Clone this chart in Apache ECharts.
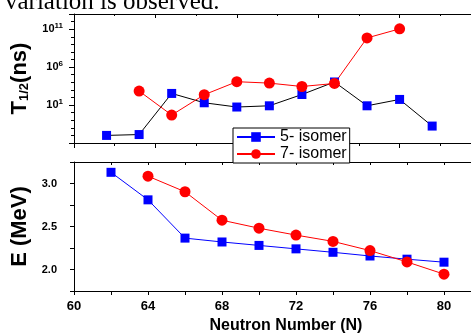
<!DOCTYPE html>
<html>
<head>
<meta charset="utf-8">
<script src="https://cdn.jsdelivr.net/npm/echarts@6/dist/echarts.min.js"></script>
<style>
  html, body { margin: 0; padding: 0; background: #fff; }
  #main { width: 471px; height: 334px; }
</style>
</head>
<body>
<div id="main"></div>
<script>
// half-life panel (top)
const nHalf5 = [62, 64, 66, 68, 70, 72, 74, 76, 78, 80, 82];
const halfLife5 = [1e-3, 1.3e-3, 340, 20, 5.5, 8, 245, 1.1e4, 8, 55, 0.017];
const nHalf7 = [64, 66, 68, 70, 72, 74, 76, 78, 80];
const halfLife7 = [700, 0.48, 230, 1.2e4, 7.8e3, 2.8e3, 7e3, 7e9, 1.1e11];

// energy panel (bottom)
const nE5 = [62, 64, 66, 68, 70, 72, 74, 76, 78, 80];
const energy5 = [3.13, 2.81, 2.365, 2.32, 2.28, 2.24, 2.2, 2.157, 2.12, 2.085];
const nE7 = [64, 66, 68, 70, 72, 74, 76, 78, 80];
const energy7 = [3.085, 2.904, 2.573, 2.48, 2.4, 2.327, 2.22, 2.088, 1.946];

const logLabelExps = [1, 6, 11];
const eLabels = [2.0, 2.5, 3.0];
const nLabels = [60, 64, 68, 72, 76, 80];

const zip = (xs, ys) => xs.map((x, i) => [x, ys[i]]);

const chart = echarts.init(document.getElementById("main"));
const blue = "#0000ff";
const red = "#ff0000";
const font = "Liberation Sans, Arial, sans-serif";

chart.setOption({
  animation: false,
  graphic: [
    {
      type: "text",
      left: 5,
      top: -10,
      style: {
        text: "variation is observed.",
        font: "25px 'Liberation Serif', 'Times New Roman', serif",
        fill: "#000",
      },
    },
  ],
  grid: [
    { left: 74, top: 14, width: 407, height: 129, outerBoundsMode: "none" },
    { left: 74, top: 162, width: 407, height: 129, outerBoundsMode: "none" },
  ],
  legend: {
    data: ["5- isomer", "7- isomer"],
    orient: "vertical",
    left: 233,
    top: 128,
    itemWidth: 38,
    itemHeight: 12,
    itemGap: 1,
    padding: [1, 3, 1, 3],
    backgroundColor: "#fff",
    borderColor: "#000",
    borderWidth: 1,
    borderRadius: 0,
    textStyle: { fontFamily: font, fontSize: 16, color: "#000" },
    z: 10,
  },
  xAxis: [
    {
      gridIndex: 0,
      type: "value",
      min: 60,
      max: 85,
      interval: 5,
      axisLine: { lineStyle: { color: "#000", width: 1 } },
      axisTick: { length: 5, lineStyle: { color: "#000" } },
      minorTick: { show: true, splitNumber: 2, length: 3, lineStyle: { color: "#000" } },
      axisLabel: { show: false },
      splitLine: { show: false },
    },
    {
      gridIndex: 0,
      type: "value",
      position: "top",
      min: 60,
      max: 85,
      interval: 5,
      axisLine: { lineStyle: { color: "#000", width: 1 } },
      axisTick: { inside: true, length: 4, lineStyle: { color: "#000" } },
      minorTick: { show: true, splitNumber: 2, length: 2, lineStyle: { color: "#000" } },
      axisLabel: { show: false },
      splitLine: { show: false },
    },
    {
      gridIndex: 1,
      type: "value",
      min: 60,
      max: 82,
      interval: 2,
      name: "Neutron Number (N)",
      nameLocation: "middle",
      nameGap: 27,
      nameTextStyle: {
        fontFamily: font,
        fontWeight: "bold",
        fontSize: 16,
        color: "#000",
        padding: [0, 0, 0, 17],
      },
      axisLine: { lineStyle: { color: "#000", width: 1 } },
      axisTick: { length: 4, lineStyle: { color: "#000" } },
      axisLabel: {
        margin: 9,
        fontFamily: font,
        fontWeight: "bold",
        fontSize: 13,
        color: "#000",
        formatter: (v) => (nLabels.includes(v) ? String(v) : ""),
      },
      splitLine: { show: false },
    },
    {
      gridIndex: 1,
      type: "value",
      position: "top",
      min: 60,
      max: 82,
      interval: 2,
      axisLine: { lineStyle: { color: "#000", width: 1 } },
      axisTick: { inside: true, length: 3, lineStyle: { color: "#000" } },
      axisLabel: { show: false },
      splitLine: { show: false },
    },
  ],
  yAxis: [
    {
      gridIndex: 0,
      type: "log",
      logBase: 10,
      min: 1e-4,
      max: 1e13,
      interval: 5,
      position: "left",
      name: "{t|T}{sub|1/2}{t|(ns)}",
      nameLocation: "middle",
      nameGap: 40,
      nameRotate: 90,
      nameTextStyle: {
        rich: {
          t: { fontFamily: font, fontWeight: "bold", fontSize: 22, color: "#000" },
          sub: { fontFamily: font, fontWeight: "bold", fontSize: 13, color: "#000", padding: [9, 0, 0, 0] },
        },
      },
      axisLine: { show: true, lineStyle: { color: "#000", width: 1 } },
      axisTick: { length: 5, lineStyle: { color: "#000" } },
      axisLabel: {
        margin: 11,
        formatter: (v) => {
          const e = Math.round(Math.log10(v));
          return logLabelExps.includes(e) ? "{b|10}{s|" + e + "}" : "";
        },
        rich: {
          b: { fontFamily: font, fontWeight: "bold", fontSize: 11, color: "#000" },
          s: { fontFamily: font, fontWeight: "bold", fontSize: 8, color: "#000", padding: [0, 0, 7, 0] },
        },
      },
      splitLine: { show: false },
    },
    {
      gridIndex: 0,
      type: "log",
      logBase: 10,
      min: 1e-4,
      max: 1e13,
      interval: 1,
      position: "left",
      offset: 0,
      axisLine: { show: false },
      axisTick: { length: 3, lineStyle: { color: "#000" } },
      axisLabel: { show: false },
      splitLine: { show: false },
    },
    {
      gridIndex: 1,
      type: "value",
      min: 1.75,
      max: 3.25,
      interval: 0.25,
      position: "left",
      name: "E (MeV)",
      nameLocation: "middle",
      nameGap: 41,
      nameRotate: 90,
      nameTextStyle: { fontFamily: font, fontWeight: "bold", fontSize: 22, color: "#000" },
      axisLine: { show: true, lineStyle: { color: "#000", width: 1 } },
      axisTick: { length: 4, lineStyle: { color: "#000" } },
      axisLabel: {
        margin: 17,
        fontFamily: font,
        fontWeight: "bold",
        fontSize: 11,
        color: "#000",
        formatter: (v) => (eLabels.some((l) => Math.abs(l - v) < 1e-6) ? v.toFixed(1) : ""),
      },
      splitLine: { show: false },
    },
  ],
  series: [
    {
      name: "t5",
      type: "line",
      xAxisIndex: 0,
      yAxisIndex: 0,
      symbol: "rect",
      symbolSize: 9,
      itemStyle: { color: blue },
      lineStyle: { color: "#000", width: 1 },
      data: zip(nHalf5, halfLife5),
    },
    {
      name: "t7",
      type: "line",
      xAxisIndex: 0,
      yAxisIndex: 0,
      symbol: "circle",
      symbolSize: 11,
      itemStyle: { color: red },
      lineStyle: { color: red, width: 1 },
      data: zip(nHalf7, halfLife7),
    },
    {
      name: "5- isomer",
      type: "line",
      xAxisIndex: 2,
      yAxisIndex: 2,
      symbol: "rect",
      symbolSize: 9,
      itemStyle: { color: blue },
      lineStyle: { color: blue, width: 1 },
      data: zip(nE5, energy5),
    },
    {
      name: "7- isomer",
      type: "line",
      xAxisIndex: 2,
      yAxisIndex: 2,
      symbol: "circle",
      symbolSize: 11,
      itemStyle: { color: red },
      lineStyle: { color: red, width: 1 },
      data: zip(nE7, energy7),
    },
  ],
});

window.addEventListener("resize", () => chart.resize());
</script>
</body>
</html>
